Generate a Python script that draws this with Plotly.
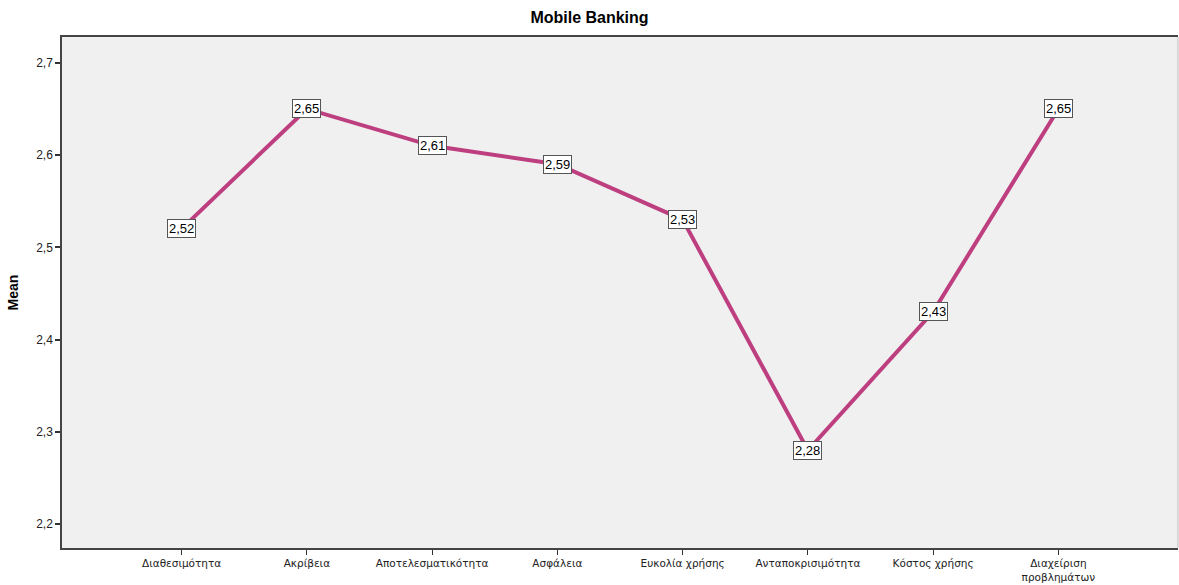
import plotly.graph_objects as go

categories = ["Διαθεσιμότητα", "Ακρίβεια", "Αποτελεσματικότητα", "Ασφάλεια",
              "Ευκολία χρήσης", "Ανταποκρισιμότητα", "Κόστος χρήσης",
              "Διαχείριση<br>προβλημάτων"]
means = [2.52, 2.65, 2.61, 2.59, 2.53, 2.28, 2.43, 2.65]
y_ticks = [2.2, 2.3, 2.4, 2.5, 2.6, 2.7]
y_tick_text = ["2,2", "2,3", "2,4", "2,5", "2,6", "2,7"]

FONT = "Liberation Sans, Arial, sans-serif"
TICK_FONT = "DejaVu Sans, Verdana, sans-serif"
x_idx = list(range(len(categories)))

fig = go.Figure()
fig.add_trace(go.Scatter(
    x=x_idx, y=means, mode="lines",
    line=dict(color="#BE3F80", width=4),
    hoverinfo="skip", showlegend=False,
))

for xi, v in zip(x_idx, means):
    fig.add_annotation(
        x=xi, y=v, xref="x", yref="y",
        text=f"{v:.2f}".replace(".", ","),
        showarrow=False,
        font=dict(family=FONT, size=13, color="#000000"),
        bgcolor="#FFFFFF", bordercolor="#555555", borderwidth=1, borderpad=1,
    )

fig.update_layout(
    width=1179, height=585,
    margin=dict(l=62, r=1, t=37, b=37),
    paper_bgcolor="#FFFFFF",
    plot_bgcolor="#F0F0F0",
    title=dict(text="<b>Mobile Banking</b>", x=0.5, xanchor="center",
               y=0.97, yanchor="middle",
               font=dict(family=FONT, size=16, color="#000000")),
    font=dict(family=FONT, size=12, color="#222222"),
)

fig.update_xaxes(
    range=[-0.955, 7.955], automargin=False,
    tickmode="array", tickvals=x_idx, ticktext=categories,
    ticks="outside", ticklen=5, tickcolor="#333333", tickwidth=1,
    showline=True, linecolor="#444444", linewidth=1.5, mirror=True,
    showgrid=False, zeroline=False,
    tickfont=dict(family=TICK_FONT, size=10.5, color="#222222"),
)
fig.update_yaxes(
    range=[2.174, 2.728], automargin=False,
    tickmode="array", tickvals=y_ticks, ticktext=y_tick_text,
    ticks="outside", ticklen=5, tickcolor="#333333", tickwidth=1.5,
    showline=True, linecolor="#444444", linewidth=1.5,
    showgrid=False, zeroline=False,
    title=dict(text="<b>Mean</b>", standoff=14,
               font=dict(family=FONT, size=14, color="#000000")),
    tickfont=dict(family=FONT, size=12, color="#222222"),
)

# light right edge of the plot frame
fig.add_shape(type="line", xref="paper", yref="paper", x0=1, x1=1, y0=0, y1=1,
              line=dict(color="#BBBBBB", width=1))

fig.write_html("out.html")
